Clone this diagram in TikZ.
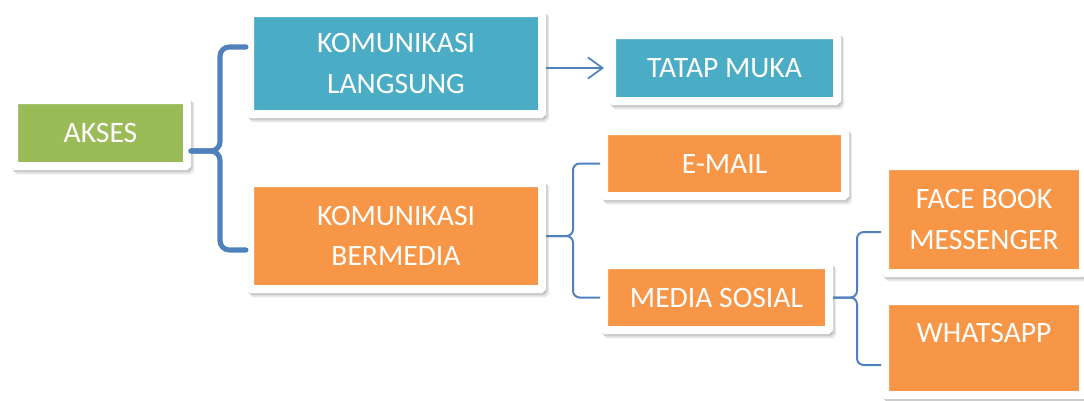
\documentclass[tikz,border=0pt]{standalone}
\usepackage{fontspec}
\setmainfont{Carlito}
\usetikzlibrary{arrows.meta}
\definecolor{aksesgreen}{HTML}{9BBB59}
\definecolor{langblue}{HTML}{4BACC6}
\definecolor{medorange}{HTML}{F79646}
\definecolor{bracecol}{HTML}{4F81BD}
\newcommand{\boxfont}{\fontsize{22.2}{30.5}\selectfont}
\tikzset{
	box/.style={draw=white, line width=6pt, rounded corners=1pt, text=white, font=\boxfont,
		align=center, inner sep=0pt,
		preaction={draw=black, fill=black, opacity=0.09, transform canvas={shift={(2.4pt,-3.2pt)}}},
		preaction={draw=black, fill=black, opacity=0.12, transform canvas={shift={(1.2pt,-1.8pt)}}}},
	bigbrace/.style={draw=bracecol, line width=3.8pt, rounded corners=7pt, line cap=round},
	smallbrace/.style={draw=bracecol, line width=1.5pt, rounded corners=5pt},
	arr/.style={draw=bracecol, line width=1.3pt, -{Straight Barb[length=11pt,width=16pt,line width=1.3pt]}}
}
\begin{document}
\begin{tikzpicture}[x=0.75pt,y=-0.75pt]
		\useasboundingbox (0,0) rectangle (1084,400);
		\node[box, fill=aksesgreen, minimum width=129.75pt, minimum height=49.5pt] (akses) at (100.5,133) {AKSES};
		\node[box, fill=langblue, minimum width=219pt, minimum height=75.75pt] (langsung) at (396,63.5) {KOMUNIKASI\\LANGSUNG};
		\node[box, fill=langblue, minimum width=168.75pt, minimum height=49.5pt] (tatap) at (724.5,68) {TATAP MUKA};
		\node[box, fill=medorange, minimum width=219pt, minimum height=79.5pt] (bermedia) at (396,236) {KOMUNIKASI\\BERMEDIA};
		\node[box, fill=medorange, minimum width=180.75pt, minimum height=48.75pt] (email) at (724.5,163.5) {E-MAIL};
		\node[box, fill=medorange, minimum width=168.75pt, minimum height=48.75pt] (medsos) at (716.5,297.5) {MEDIA SOSIAL};
		\node[box, fill=medorange, minimum width=148.5pt, minimum height=80.25pt] (fbm) at (984,219.5) {FACE BOOK\\MESSENGER};
		\node[box, fill=medorange, minimum width=148.5pt, minimum height=70.5pt, text height=30.75pt, text depth=39.75pt] (wa) at (984,348) {WHATSAPP};
		% braces
		\draw[bigbrace] ([yshift=-13.5pt]akses.east) -- ++(29,0) |- ([yshift=12.4pt]langsung.west);
		\draw[bigbrace] ([yshift=-13.5pt]akses.east) -- ++(29,0) |- ([yshift=-10.5pt]bermedia.west);
		\draw[smallbrace] (bermedia.east) -- ++(27,0) |- (email.west);
		\draw[smallbrace] (bermedia.east) -- ++(27,0) |- (medsos.west);
		\draw[smallbrace] (medsos.east) -- ++(24,0) |- ([yshift=-9.4pt]fbm.west);
		\draw[smallbrace] (medsos.east) -- ++(24,0) |- ([yshift=-12.75pt]wa.west);
		\draw[arr] ([yshift=-3.4pt]langsung.east) -- ([xshift=-3pt]tatap.west);
	\end{tikzpicture}
\end{document}
